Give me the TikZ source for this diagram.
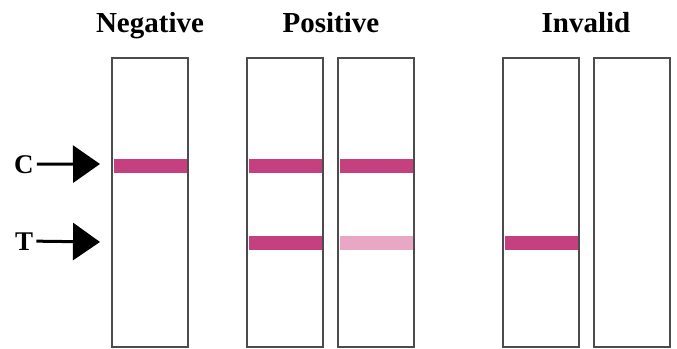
\documentclass[tikz,border=0pt]{standalone}
\usepackage{fontspec}
\setmainfont{Liberation Serif}
\usetikzlibrary{arrows.meta}
\definecolor{bandpink}{HTML}{C4407E}
\definecolor{bandfaint}{HTML}{E8A7C4}
\begin{document}
\begin{tikzpicture}[x=1pt, y=-1pt,
               title_style/.style={anchor=base, font=\bfseries\fontsize{29}{29}\selectfont, inner sep=0pt},
               label_style/.style={anchor=base west, font=\bfseries\fontsize{27}{27}\selectfont, inner sep=3pt},
               strip_style/.style={rectangle, draw=black!70, line width=1.6pt, fill=white, minimum width=76pt, minimum height=289pt, inner sep=0pt},
               band_style/.style={rectangle, fill=bandpink, minimum width=73pt, minimum height=14pt, inner sep=0pt},
               faint_style/.style={band_style, fill=bandfaint},
               arrow_style/.style={draw=black, line width=3pt, -{Triangle[length=27pt,width=37pt]}}]
                \useasboundingbox (0,0) rectangle (677,348);

                \node[title_style] (neg) at (150,32) {Negative};
                \node[title_style] (pos) at (331,32) {Positive};
                \node[title_style] (inv) at (586,32) {Invalid};

                \node[strip_style] (s1) at (150,202.5) {};
                \node[strip_style] (s2) at (285,202.5) {};
                \node[strip_style] (s3) at (376,202.5) {};
                \node[strip_style] (s4) at (541,202.5) {};
                \node[strip_style] (s5) at (632,202.5) {};

                \node[band_style] (c1) at (150,166) {};
                \node[band_style] (c2) at (285,166) {};
                \node[band_style] (c3) at (376,166) {};
                \node[band_style] (t2) at (285,243) {};
                \node[faint_style] (t3) at (376,243) {};
                \node[band_style] (t4) at (541,243) {};

                \node[label_style] (C) at (11,173) {C};
                \node[label_style] (T) at (12,250) {T};
                \coordinate (ctip) at (100,164);
                \coordinate (ttip) at (100,242);

                \draw[arrow_style] (C.east) -- (ctip);
                \draw[arrow_style] (T.east) -- (ttip);
            \end{tikzpicture}
\end{document}
